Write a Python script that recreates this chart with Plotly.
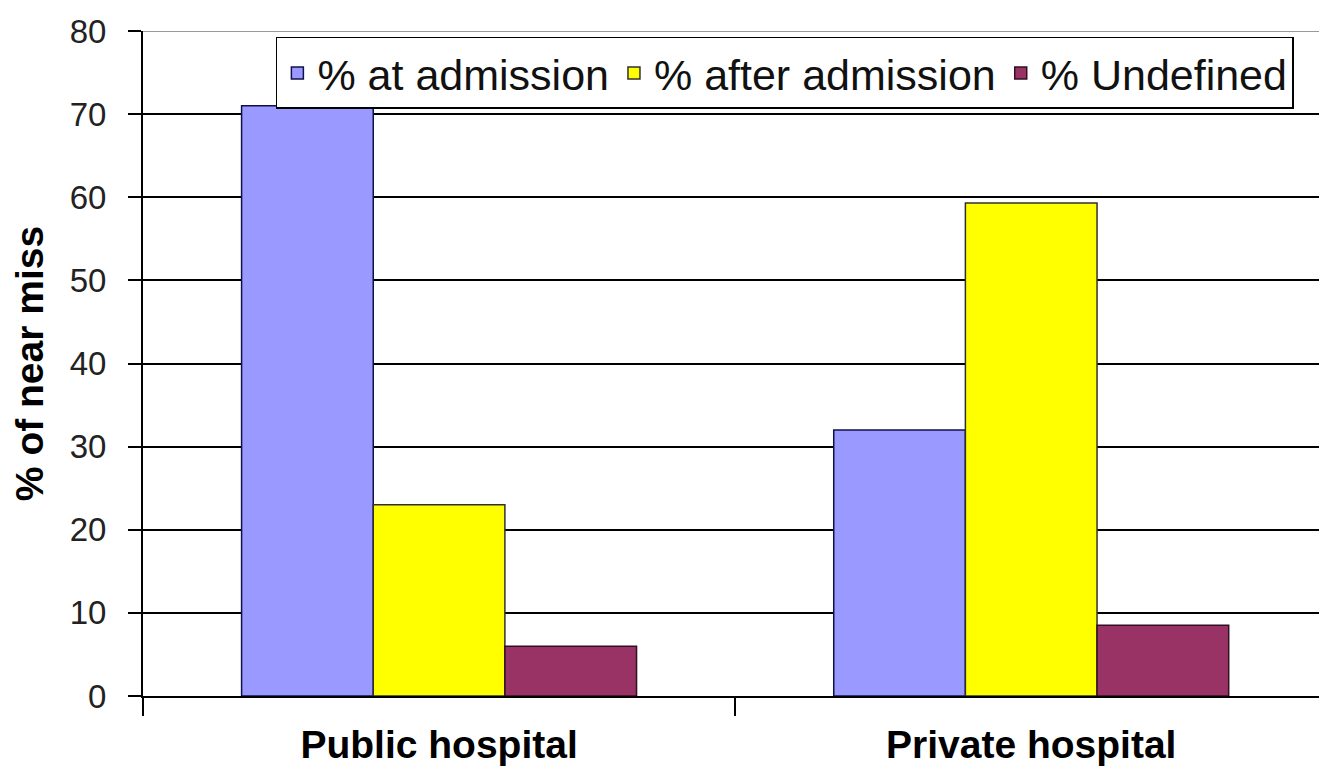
import plotly.graph_objects as go

categories = ["Public hospital", "Private hospital"]
series_names = ["% at admission", "% after admission", "% Undefined"]
at_admission = [71, 32]
after_admission = [23, 59.3]
undefined = [6, 8.5]
colors = ["#9999FF", "#FFFF00", "#993366"]
outline = ["#10104a", "#303030", "#301020"]
y_ticks = [0, 10, 20, 30, 40, 50, 60, 70, 80]
Y_RANGE = [0, 80]

fig = go.Figure()
for name, vals, c, oc in zip(series_names, [at_admission, after_admission, undefined], colors, outline):
    fig.add_trace(go.Bar(
        x=categories, y=vals, name=name,
        marker=dict(color=c, line=dict(color=oc, width=1.5)),
    ))

fig.update_layout(
    width=1319, height=776,
    margin=dict(l=143, r=0, t=31, b=80),
    paper_bgcolor="white", plot_bgcolor="white",
    barmode="group", bargap=0.333, bargroupgap=0,
    font=dict(family="Liberation Sans, Arial, sans-serif", color="#111111"),
    showlegend=True,
    legend=dict(
        orientation="h", x=0.113, y=0.991, xanchor="left", yanchor="top",
        bgcolor="white", bordercolor="black", borderwidth=1.5,
        font=dict(size=43, color="#111111"),
        itemwidth=30, tracegroupgap=0,
    ),
    xaxis=dict(
        type="category", range=[-0.5, 1.486],
        showline=True, linecolor="black", linewidth=2,
        ticks="outside", tickson="boundaries", ticklen=18, tickwidth=2, tickcolor="black",
        tickfont=dict(size=39, color="black", weight="bold"),
        ticklabelstandoff=13,
        showgrid=False,
    ),
    yaxis=dict(
        range=Y_RANGE, tickvals=y_ticks,
        showline=True, linecolor="black", linewidth=2,
        ticks="outside", ticklen=13, tickwidth=2, tickcolor="black",
        tickfont=dict(size=33, color="#222222"),
        ticklabelstandoff=15,
        showgrid=True, gridcolor="black", gridwidth=2,
        zeroline=False,
        title=dict(text="<b>% of near miss</b>", font=dict(size=39, color="black"), standoff=14),
    ),
)
fig.add_shape(type="line", xref="paper", yref="y", x0=0, x1=1, y0=Y_RANGE[1], y1=Y_RANGE[1],
              line=dict(color="#9a9a9a", width=2), layer="above")

fig.write_html("out.html",
               config={"displayModeBar": False},
               post_script="document.body.style.margin='0';document.body.style.overflow='hidden';")
